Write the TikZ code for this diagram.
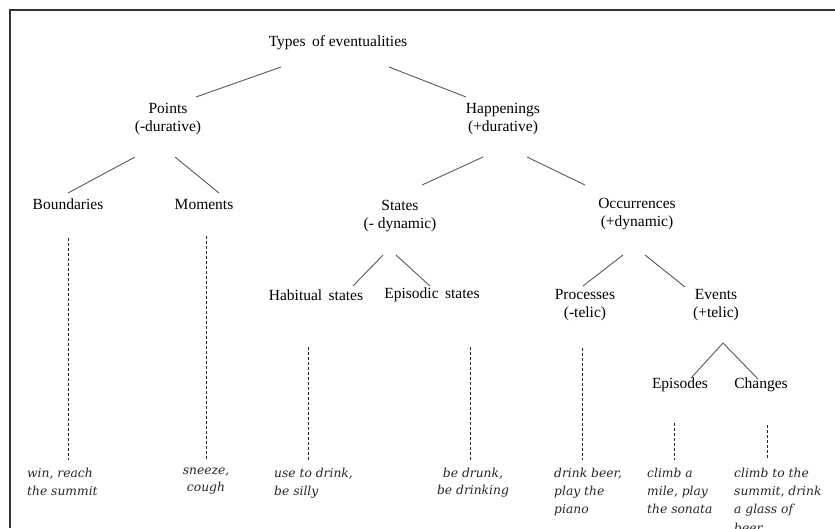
\documentclass[tikz,border=0pt]{standalone}
\usepackage{fontspec}
\setmainfont{Liberation Serif}
\newfontfamily\exfont{DejaVu Serif}
\usetikzlibrary{calc}
\begin{document}
\begin{tikzpicture}[x=1pt,y=-1pt,
 lbl/.style={inner sep=0pt,align=center,font=\fontsize{15.5}{17.5}\selectfont},
 ex/.style={inner sep=0pt,align=left,anchor=north west,text=black!85,font=\exfont\itshape\fontsize{12.3}{18.2}\selectfont},
 br/.style={draw=black!65,line width=0.9pt},
 dl/.style={draw=black!85,line width=0.9pt,dash pattern=on 3pt off 2pt}]
\useasboundingbox (0,0) rectangle (835,528);
\draw[line width=1.5pt,black!80] (835,10) -- (10,10) -- (10,528);
% labels
\node[lbl] (types) at (338,43) {Types\, of eventualities};
\node[lbl] (points) at (168,119) {Points\\(-durative)};
\node[lbl] (happen) at (503,119) {Happenings\\(+durative)};
\node[lbl] (bound) at (68,204) {Boundaries};
\node[lbl] (mom) at (204,204) {Moments};
\node[lbl] (states) at (400,216) {States\\(- dynamic)};
\node[lbl] (occ) at (637,214) {Occurrences\\(+dynamic)};
\node[lbl] (hab) at (316,295) {Habitual\, states};
\node[lbl] (epis) at (432,295) {Episodic\, states};
\node[lbl] (proc) at (585,305) {Processes\\(-telic)};
\node[lbl] (events) at (716,305) {Events\\(+telic)};
\node[lbl] (episodes) at (680,385) {Episodes};
\node[lbl] (changes) at (761,385) {Changes};
% examples
\node[ex] (ex1) at (27,468) {win, reach\\the summit};
\node[ex,anchor=north,align=center,font=\exfont\itshape\fontsize{12.3}{16.5}\selectfont] (ex2) at (206,468) {sneeze,\\cough};
\node[ex] (ex3) at (274,468) {use to drink,\\be silly};
\node[ex,anchor=north,align=center,font=\exfont\itshape\fontsize{12.3}{16.5}\selectfont] (ex4) at (473,468) {be drunk,\\be drinking};
\node[ex] (ex5) at (554,468) {drink beer,\\play the\\piano};
\node[ex] (ex6) at (647,468) {climb a\\mile, play\\the sonata};
\node[ex] (ex7) at (734,468) {climb to the\\summit, drink\\a glass of\\beer};
% tree branches
\draw[br] ($(types)+(-57,24)$) -- ($(points)+(28,-22)$);
\draw[br] ($(types)+(51,24)$) -- ($(happen)+(-37,-22)$);
\draw[br] ($(points)+(-33,38)$) -- ($(bound)+(0,-11)$);
\draw[br] ($(points)+(7,38)$) -- ($(mom)+(15,-11)$);
\draw[br] ($(happen)+(-20,38)$) -- ($(states)+(22,-31)$);
\draw[br] ($(happen)+(24,38)$) -- ($(occ)+(-52,-29)$);
\draw[br] ($(states)+(-17,39)$) -- ($(hab)+(37,-9)$);
\draw[br] ($(states)+(-4,39)$) -- ($(epis)+(-2,-9)$);
\draw[br] ($(occ)+(-14,41)$) -- ($(proc)+(-2,-19)$);
\draw[br] ($(occ)+(8,41)$) -- ($(events)+(-31,-18)$);
\draw[br] ($(events)+(7,38)$) -- ($(episodes)+(11,-7)$);
\draw[br] ($(events)+(7,38)$) -- ($(changes)+(-3,-6)$);
% dashed links to examples
\draw[dl] ($(bound)+(0,34)$) -- ($(bound |- ex1.north)+(0,-8)$);
\draw[dl] ($(mom)+(2,32)$) -- ($(mom |- ex2.north)+(2,-8)$);
\draw[dl] ($(hab)+(-8,52)$) -- ($(hab |- ex3.north)+(-8,-8)$);
\draw[dl] ($(epis)+(38,52)$) -- ($(epis |- ex4.north)+(38,-8)$);
\draw[dl] ($(proc)+(-3,43)$) -- ($(proc |- ex5.north)+(-3,-8)$);
\draw[dl] ($(episodes)+(-6,38)$) -- ($(episodes |- ex6.north)+(-6,-8)$);
\draw[dl] ($(changes)+(6,40)$) -- ($(changes |- ex7.north)+(6,-8)$);
\end{tikzpicture}
\end{document}
